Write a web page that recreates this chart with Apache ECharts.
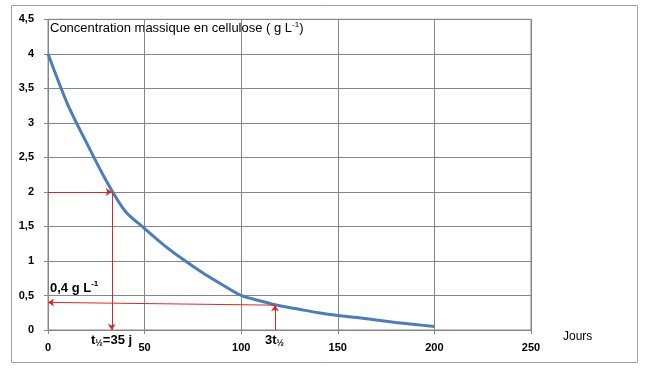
<!DOCTYPE html>
<html><head><meta charset="utf-8">
<script src="https://cdn.jsdelivr.net/npm/echarts@6/dist/echarts.min.js"></script>
<style>html,body{margin:0;padding:0;background:#fff}#c{width:648px;height:374px}</style>
</head><body><div id="c"></div>
<script>
// Days (x) and cellulose concentration in g/L (y)
const days = [0, 10, 20, 30, 40, 50, 60, 70, 80, 90, 100, 110, 120, 130, 140, 150, 160, 170, 180, 190, 200];
const conc = [4.0, 3.28, 2.71, 2.17, 1.72, 1.47, 1.23, 1.02, 0.83, 0.66, 0.5, 0.42, 0.35, 0.3, 0.25, 0.21, 0.18, 0.145, 0.11, 0.08, 0.05];
// Red construction arrows [from, to]
const arrowHalfH = [[0, 2], [33, 2]];
const arrowHalfV = [[33, 2], [33, 0]];
const arrow3Up = [[117.5, 0], [117.5, 0.36]];
const arrow3Left = [[117.5, 0.36], [0, 0.40]];
const xTicks = [0, 50, 100, 150, 200, 250];
const yTicks = [0, 0.5, 1, 1.5, 2, 2.5, 3, 3.5, 4, 4.5];

const chart = echarts.init(document.getElementById('c'));
const gridCol = '#868686';
const red = '#e02424';
const lineArrow = (pair) => ({
  type: 'lines', coordinateSystem: 'cartesian2d', silent: true, z: 5,
  symbol: ['none', 'arrow'], symbolSize: 6,
  lineStyle: { color: red, width: 1, opacity: 1 },
  data: [{ coords: pair }]
});
chart.setOption({
  animation: false,
  grid: { left: 48, right: 117, top: 19.3, bottom: 44, show: true, borderColor: gridCol, borderWidth: 1 },
  xAxis: {
    type: 'value', min: xTicks[0], max: xTicks[xTicks.length - 1], interval: 50,
    axisLine: { lineStyle: { color: gridCol, width: 1 } },
    axisTick: { show: true, inside: false, length: 4, lineStyle: { color: gridCol } },
    splitLine: { show: true, lineStyle: { color: gridCol, width: 1 } },
    axisLabel: { margin: 12, color: '#000', fontFamily: 'Liberation Sans', fontWeight: 'bold', fontSize: 11 }
  },
  yAxis: {
    type: 'value', min: yTicks[0], max: yTicks[yTicks.length - 1], interval: 0.5,
    axisLine: { show: true, lineStyle: { color: gridCol, width: 1 } },
    axisTick: { show: true, inside: false, length: 4, lineStyle: { color: gridCol } },
    splitLine: { show: true, lineStyle: { color: gridCol, width: 1 } },
    axisLabel: { margin: 14, color: '#000', fontFamily: 'Liberation Sans', fontWeight: 'bold', fontSize: 11,
      formatter: v => String(v).replace('.', ',') }
  },
  series: [
    { type: 'line', data: days.map((d, i) => [d, conc[i]]), smooth: 0.3, showSymbol: false, z: 3,
      lineStyle: { color: '#4a7ebb', width: 3 } },
    lineArrow(arrowHalfH), lineArrow(arrowHalfV), lineArrow(arrow3Up), lineArrow(arrow3Left)
  ],
  graphic: [
    { type: 'rect', shape: { x: 11.5, y: 5.5, width: 626, height: 357 }, style: { fill: 'none', stroke: '#a0a0a0', lineWidth: 1 }, z: -1, silent: true },
    { type: 'text', left: 50, top: 21, style: {
      text: '{n|Concentration massique en cellulose ( g L}{s|-1}{n|)}',
      rich: { n: { fontFamily: 'Liberation Sans', fontSize: 13, fill: '#000' }, s: { fontFamily: 'Liberation Sans', fontSize: 8, fill: '#000', padding: [0,0,7,0] } } } },
    { type: 'text', left: 50, top: 280, style: {
      text: '{n|0,4 g L}{s|-1}',
      rich: { n: { fontFamily: 'Liberation Sans', fontSize: 13, fontWeight: 'bold', fill: '#000' }, s: { fontFamily: 'Liberation Sans', fontSize: 8, fontWeight: 'bold', fill: '#000', padding: [0,0,8,0] } } } },
    { type: 'text', left: 91, top: 334, style: {
      text: '{n|t}{s|½}{n|=35 j}',
      rich: { n: { fontFamily: 'Liberation Sans', fontSize: 13, fontWeight: 'bold', fill: '#000' }, s: { fontFamily: 'Liberation Sans', fontSize: 9, fontWeight: 'bold', fill: '#000', padding: [6,0,0,0] } } } },
    { type: 'text', left: 265, top: 334, style: {
      text: '{n|3t}{s|½}',
      rich: { n: { fontFamily: 'Liberation Sans', fontSize: 13, fontWeight: 'bold', fill: '#000' }, s: { fontFamily: 'Liberation Sans', fontSize: 9, fontWeight: 'bold', fill: '#000', padding: [6,0,0,0] } } } },
    { type: 'text', left: 563, top: 331, style: { text: 'Jours', fontFamily: 'Liberation Sans', fontSize: 12, fill: '#000' } }
  ]
});
</script></body></html>
